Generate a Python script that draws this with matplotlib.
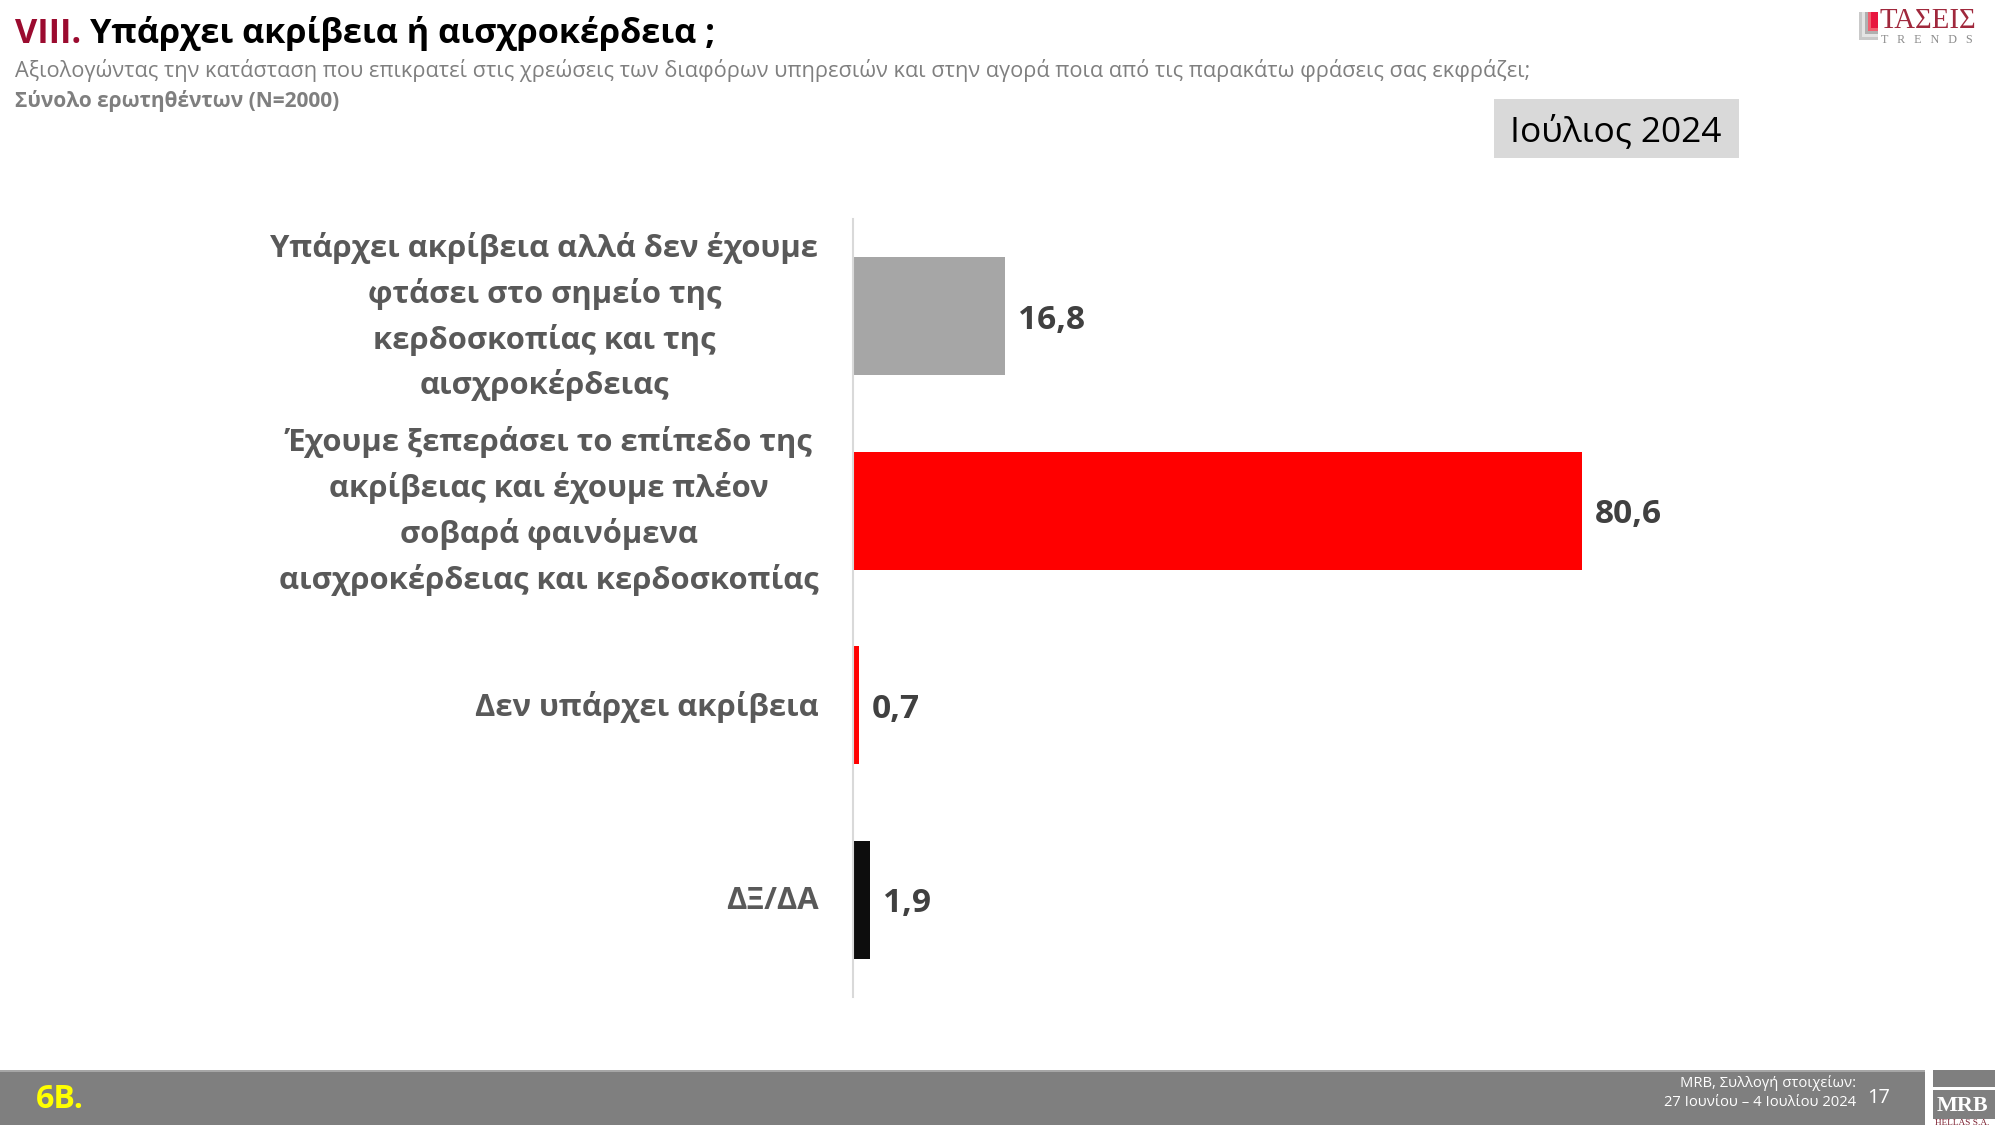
import matplotlib
matplotlib.use('Agg')
import matplotlib.pyplot as plt
from matplotlib.patches import Rectangle
from matplotlib.transforms import ScaledTranslation

# ---------------- data ----------------
categories = [
    "Υπάρχει ακρίβεια αλλά δεν έχουμε\nφτάσει στο σημείο της\nκερδοσκοπίας και της\nαισχροκέρδειας",
    "Έχουμε ξεπεράσει το επίπεδο της\nακρίβειας και έχουμε πλέον\nσοβαρά φαινόμενα\nαισχροκέρδειας και κερδοσκοπίας",
    "Δεν υπάρχει ακρίβεια",
    "ΔΞ/ΔΑ",
]
values = [16.8, 80.6, 0.7, 1.9]
bar_colors = ['#a6a6a6', '#ff0000', '#ff0000', '#0d0d0d']

title_num = "VIII."
title_text = "Υπάρχει ακρίβεια ή αισχροκέρδεια ;"
subtitle = ("Αξιολογώντας την κατάσταση που επικρατεί στις χρεώσεις των διαφόρων υπηρεσιών "
            "και στην αγορά ποια από τις παρακάτω φράσεις σας εκφράζει;")
base_text = "Σύνολο ερωτηθέντων (N=2000)"
period = "Ιούλιος 2024"
footer_code = "6B."
footer_src1 = "MRB, Συλλογή στοιχείων:"
footer_src2 = "27 Ιουνίου – 4 Ιουλίου 2024"
page_no = "17"

# ---------------- setup ----------------
plt.rcParams['font.family'] = ['Open Sans', 'DejaVu Sans']
W, H = 2000, 1125
fig = plt.figure(figsize=(20, 11.25), dpi=100)
fig.patch.set_facecolor('white')
renderer = fig.canvas.get_renderer()


def X(px):
    return px / W


def Y(py):
    return 1 - py / H


def fit(t, target):
    bb = t.get_window_extent(renderer)
    if bb.width > 0:
        t.set_fontsize(t.get_fontsize() * target / bb.width)


# ---------------- chart ----------------
ax = fig.add_axes([X(853), Y(997), (1758 - 853) / W, (997 - 219) / H])
ypos = list(range(len(categories)))
bars = ax.barh(ypos, values, height=0.605, color=bar_colors)
ax.set_xlim(0, 100)
ax.set_ylim(len(categories) - 0.5, -0.5)
for s in ['top', 'right', 'bottom']:
    ax.spines[s].set_visible(False)
ax.spines['left'].set_color('#d9d9d9')
ax.spines['left'].set_linewidth(1.5)
ax.set_xticks([])
ax.set_yticks(ypos, categories)
ax.tick_params(axis='y', length=0, pad=25)

vlabels = [f"{v:.1f}".replace('.', ',') for v in values]
bl = ax.bar_label(bars, labels=vlabels, padding=9, fontsize=24,
                  fontweight='bold', color='#404040')
for t in bl:
    t.set_va('center_baseline')

fig.canvas.draw()
# fit category label size to the widest line of the first label (550 px)
line0 = fig.text(0, 0, categories[0].split('\n')[0], fontsize=24, fontweight='bold')
w0 = line0.get_window_extent(renderer).width
line0.remove()
cat_fs = 24 * 550 / w0
for lbl in ax.get_yticklabels():
    lbl.set_fontweight('bold')
    lbl.set_color('#595959')
    lbl.set_multialignment('center')
    lbl.set_fontsize(cat_fs)
    lbl.set_linespacing(1.55)
    up = 10 if '\n' in lbl.get_text() else 2
    lbl.set_transform(lbl.get_transform() +
                      ScaledTranslation(0, up / 100, fig.dpi_scale_trans))
fit(bl[1], 67)
for t in bl:
    t.set_fontsize(bl[1].get_fontsize())

# ---------------- titles ----------------
full = fig.text(X(15), Y(43), title_num + " " + title_text, fontsize=28,
                fontweight='bold', va='baseline')
fit(full, 702)
tfs = full.get_fontsize()
rest = fig.text(X(15), Y(43), title_text, fontsize=tfs, fontweight='bold', va='baseline')
dx = full.get_window_extent(renderer).width - rest.get_window_extent(renderer).width
full.remove()
rest.remove()
fig.text(X(15), Y(43), title_num, fontsize=tfs, fontweight='bold', va='baseline',
         color='#9b0b2f')
fig.text(X(15 + dx), Y(43), title_text, fontsize=tfs, fontweight='bold',
         va='baseline', color='black')

st = fig.text(X(15), Y(77), subtitle, fontsize=15, color='#7f7f7f', va='baseline')
fit(st, 1512)
bt = fig.text(X(15), Y(107), base_text, fontsize=15, color='#7f7f7f',
              fontweight='bold', va='baseline')
fit(bt, 325)

# period box
fig.patches.append(Rectangle((X(1494), Y(158)), (1739 - 1494) / W, (158 - 99) / H,
                             transform=fig.transFigure, facecolor='#d9d9d9',
                             edgecolor='none'))
pt = fig.text(X(1616), Y(132), period, fontsize=26, color='black',
              ha='center', va='center')
fit(pt, 212)

# ---------------- logo top right ----------------
fig.patches.append(Rectangle((X(1859), Y(40)), 19 / W, 28 / H,
                             transform=fig.transFigure, facecolor='#c9c9c9',
                             edgecolor='none'))
for i, c in enumerate(['#e4e4e4', '#b0b0b0', '#f06070', '#e8173f']):
    off = 3 * (i + 1)
    fig.patches.append(Rectangle((X(1859 + off), Y(40 - off)), (19 - off) / W,
                                 (28 - off) / H, transform=fig.transFigure,
                                 facecolor=c, edgecolor='none'))
lg = fig.text(X(1879), Y(21), "ΤΑΣΕΙΣ", fontsize=16, color='#a0283c',
              family=['Liberation Serif', 'DejaVu Serif'], ha='left', va='center')
fit(lg, 97)
lt = fig.text(X(1881), Y(40), "T   R   E   N   D   S", fontsize=6, color='#8c8c8c',
              family=['Liberation Serif', 'DejaVu Serif'], ha='left', va='center')
fit(lt, 94)

# ---------------- footer ----------------
fig.patches.append(Rectangle((0, 0), 1925 / W, (1125 - 1070) / H,
                             transform=fig.transFigure, facecolor='#7f7f7f',
                             edgecolor='none'))
fig.patches.append(Rectangle((0, Y(1072)), 1925 / W, 2 / H,
                             transform=fig.transFigure, facecolor='#a6a6a6',
                             edgecolor='none'))
fc = fig.text(X(36), Y(1100), footer_code, fontsize=20, fontweight='bold',
              color='#ffff00', va='center')
fit(fc, 48)
f2 = fig.text(X(1856), Y(1103), footer_src2, fontsize=11, color='white',
              ha='right', va='center')
fit(f2, 192)
fig.text(X(1856), Y(1083), footer_src1, fontsize=f2.get_fontsize(), color='white',
         ha='right', va='center')
pn = fig.text(X(1867), Y(1098), page_no, fontsize=16, color='white',
              ha='left', va='center')
fit(pn, 23)

# MRB logo
fig.patches.append(Rectangle((X(1933), Y(1087)), 62 / W, 17 / H,
                             transform=fig.transFigure, facecolor='#7f7f7f',
                             edgecolor='none'))
fig.patches.append(Rectangle((X(1933), Y(1119)), 62 / W, 29 / H,
                             transform=fig.transFigure, facecolor='#7f7f7f',
                             edgecolor='none'))
mt = fig.text(X(1962), Y(1106), "MRB", fontsize=14, color='white', fontweight='bold',
              family=['Liberation Serif', 'DejaVu Serif'], ha='center', va='center')
fit(mt, 52)
ht = fig.text(X(1962), Y(1123), "HELLAS S.A.", fontsize=5, color='#7b1f2f',
              family=['Liberation Serif', 'DejaVu Serif'], ha='center', va='center')
fit(ht, 54)

fig.savefig('out.png', dpi=100, facecolor='white')
